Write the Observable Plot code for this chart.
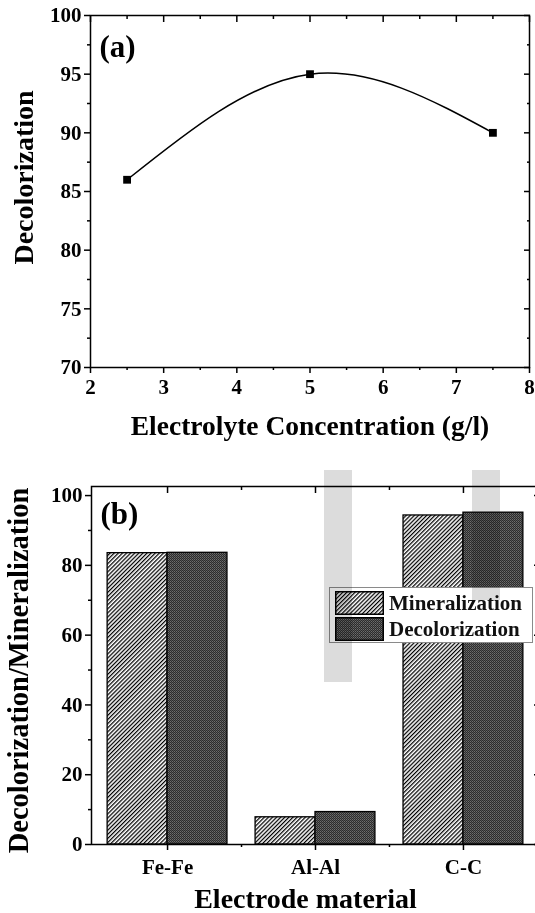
<!DOCTYPE html>
<html>
<head>
<meta charset="utf-8">
<script src="https://cdn.jsdelivr.net/npm/d3@7"></script>
<script src="https://cdn.jsdelivr.net/npm/@observablehq/plot@0.6"></script>
<style>
  html, body { margin: 0; padding: 0; background: white; overflow: hidden; }
  #wrap { position: relative; width: 535px; height: 913px; overflow: hidden; background: white; }
  #wrap svg.plot { display: block; }
  .legend { position: absolute; left: 329px; top: 587px; width: 204px; height: 56px; border: 1px solid #8a8a8a; background: white; box-sizing: border-box; font-family: 'Liberation Serif', serif; font-weight: bold; font-size: 21px; color: #111; }
  .legend .row { position: absolute; left: 5px; height: 24px; display: flex; align-items: center; }
  .legend .row svg { display: block; margin-right: 5px; }
  .wm { position: absolute; background: #dcdcdc; mix-blend-mode: multiply; pointer-events: none; }
</style>
</head>
<body>
<svg width="0" height="0" style="position:absolute">
  <defs>
    <pattern id="hatch" patternUnits="userSpaceOnUse" width="2.9" height="10" patternTransform="rotate(45)">
      <rect width="2.9" height="10" fill="white"></rect>
      <line x1="0.6" y1="0" x2="0.6" y2="10" stroke="black" stroke-width="1.3"></line>
    </pattern>
    <pattern id="dots" patternUnits="userSpaceOnUse" width="2" height="2">
      <rect width="2" height="2" fill="#2c2c2c"></rect>
      <rect x="0" y="0" width="1" height="1" fill="#6e6e6e"></rect>
      <rect x="1" y="1" width="1" height="1" fill="#555"></rect>
    </pattern>
  </defs>
</svg>
<div id="wrap"></div>
<script>
// ---------- Panel (a) data ----------
const concentration = [2.5, 5, 7.5];
const decolorA = [86, 95, 90];
const xTicksA = [2, 3, 4, 5, 6, 7, 8];
const xMinorA = [2.5, 3.5, 4.5, 5.5, 6.5, 7.5];
const yTicksA = [70, 75, 80, 85, 90, 95, 100];
const yMinorA = [72.5, 77.5, 82.5, 87.5, 92.5, 97.5];

// ---------- Panel (b) data ----------
const electrodes = ["Fe-Fe", "Al-Al", "C-C"];
const mineralization = [83.5, 7.8, 94.3];
const decolorization = [83.6, 9.3, 95.1];
const yTicksB = [0, 20, 40, 60, 80, 100];
const yMinorB = [10, 30, 50, 70, 90];
const xTicksB = [0, 1, 2];
const xMinorB = [0.5, 1.5];

const font = "'Liberation Serif', 'Times New Roman', serif";
const baseStyle = {fontFamily: font, fontWeight: "bold", fontSize: "21px", color: "black", background: "white", overflow: "visible"};
const blank = () => "";

const ptsA = concentration.map((c, i) => ({c, v: decolorA[i]}));

const pa = Plot.plot({
  width: 535, height: 445,
  marginTop: 15, marginBottom: 78, marginLeft: 90, marginRight: 6,
  x: {domain: [2, 8], label: null},
  y: {domain: [70, 100], label: null},
  style: baseStyle,
  marks: [
    Plot.line(ptsA, {x: "c", y: "v", curve: "natural", stroke: "black", strokeWidth: 1.5}),
    Plot.dot(ptsA, {x: "c", y: "v", symbol: "square", r: 4.4, fill: "black"}),
    Plot.frame({stroke: "black", strokeWidth: 1.5}),
    Plot.axisY(yTicksA, {anchor: "left", tickSize: 6, tickPadding: 3, strokeWidth: 1.5, label: null}),
    Plot.axisY(yMinorA, {anchor: "left", tickSize: 3, tickFormat: blank, strokeWidth: 1.5, label: null}),
    Plot.axisY(yTicksA, {anchor: "right", tickSize: 6, insetRight: 6, tickFormat: blank, strokeWidth: 1.5, label: null}),
    Plot.axisY(yMinorA, {anchor: "right", tickSize: 3, insetRight: 3, tickFormat: blank, strokeWidth: 1.5, label: null}),
    Plot.axisX(xTicksA, {anchor: "bottom", tickSize: 6, tickPadding: 6, strokeWidth: 1.5, label: null}),
    Plot.axisX(xMinorA, {anchor: "bottom", tickSize: 3, tickFormat: blank, strokeWidth: 1.5, label: null}),
    Plot.axisX(xTicksA, {anchor: "top", tickSize: 6, insetTop: 6, tickFormat: blank, strokeWidth: 1.5, label: null}),
    Plot.axisX(xMinorA, {anchor: "top", tickSize: 3, insetTop: 3, tickFormat: blank, strokeWidth: 1.5, label: null}),
    Plot.text(["(a)"], {frameAnchor: "top-left", dx: 9, dy: 32, fontSize: 31, textAnchor: "start", lineAnchor: "middle"}),
    Plot.text(["Electrolyte Concentration (g/l)"], {frameAnchor: "bottom", dy: 67, fontSize: 27.5, lineAnchor: "bottom"}),
    Plot.text(["Decolorization"], {frameAnchor: "left", dx: -66, dy: -14, rotate: -90, fontSize: 28, textAnchor: "middle", lineAnchor: "middle"})
  ]
});

const tableB = electrodes.map((e, i) => ({i, e, m: mineralization[i], d: decolorization[i]}));
const half = 0.405;

const pb = Plot.plot({
  width: 535, height: 468,
  marginTop: 41, marginBottom: 69, marginLeft: 91, marginRight: -4,
  x: {domain: [-0.514, 2.514], label: null},
  y: {domain: [0, 102.6], label: null},
  style: baseStyle,
  marks: [
    Plot.rectY(tableB, {x1: d => d.i - half, x2: d => d.i, y1: 0, y2: "m", fill: "url(#hatch)", stroke: "black", strokeWidth: 1.3}),
    Plot.rectY(tableB, {x1: d => d.i, x2: d => d.i + half, y1: 0, y2: "d", fill: "url(#dots)", stroke: "black", strokeWidth: 1.3}),
    Plot.frame({stroke: "black", strokeWidth: 1.5}),
    Plot.axisY(yTicksB, {anchor: "left", tickSize: 6, tickPadding: 3, strokeWidth: 1.5, label: null}),
    Plot.axisY(yMinorB, {anchor: "left", tickSize: 3, tickFormat: blank, strokeWidth: 1.5, label: null}),
    Plot.axisY(yTicksB, {anchor: "right", tickSize: 6, insetRight: 6, tickFormat: blank, strokeWidth: 1.5, label: null}),
    Plot.axisY(yMinorB, {anchor: "right", tickSize: 3, insetRight: 3, tickFormat: blank, strokeWidth: 1.5, label: null}),
    Plot.axisX(xTicksB, {anchor: "bottom", tickSize: 6, tickPadding: 9, tickFormat: i => electrodes[i], strokeWidth: 1.5, label: null}),
    Plot.axisX(xMinorB, {anchor: "bottom", tickSize: 3, tickFormat: blank, strokeWidth: 1.5, label: null}),
    Plot.axisX(xTicksB, {anchor: "top", tickSize: 6, insetTop: 6, tickFormat: blank, strokeWidth: 1.5, label: null}),
    Plot.axisX(xMinorB, {anchor: "top", tickSize: 3, insetTop: 3, tickFormat: blank, strokeWidth: 1.5, label: null}),
    Plot.text(["(b)"], {frameAnchor: "top-left", dx: 9, dy: 28, fontSize: 31, textAnchor: "start", lineAnchor: "middle"}),
    Plot.text(["Electrode material"], {frameAnchor: "bottom", dx: -10, dy: 63, fontSize: 28, lineAnchor: "bottom"}),
    Plot.text(["Decolorization/Mineralization"], {frameAnchor: "left", dx: -73, dy: 5, rotate: -90, fontSize: 28.5, textAnchor: "middle", lineAnchor: "middle"})
  ]
});

const wrap = document.getElementById("wrap");
pa.classList.add("plot"); pb.classList.add("plot");
wrap.appendChild(pa);
wrap.appendChild(pb);

// Legend
const legend = document.createElement("div");
legend.className = "legend";
const series = [["Mineralization", "url(#hatch)"], ["Decolorization", "url(#dots)"]];
series.forEach(([name, fill], k) => {
  const row = document.createElement("div");
  row.className = "row";
  row.style.top = (k === 0 ? 3 : 29) + "px";
  row.innerHTML = `<svg width="49" height="24"><rect x="0.75" y="0.75" width="47.5" height="22.5" fill="${fill}" stroke="black" stroke-width="1.5"></rect></svg><span>${name}</span>`;
  legend.appendChild(row);
});
wrap.appendChild(legend);

// faint watermark of the source image
[[324, 470, 28, 212], [472, 470, 28, 130]].forEach(([l, t, w, h]) => {
  const d = document.createElement("div");
  d.className = "wm";
  Object.assign(d.style, {left: l + "px", top: t + "px", width: w + "px", height: h + "px"});
  wrap.appendChild(d);
});
</script>
</body>
</html>
